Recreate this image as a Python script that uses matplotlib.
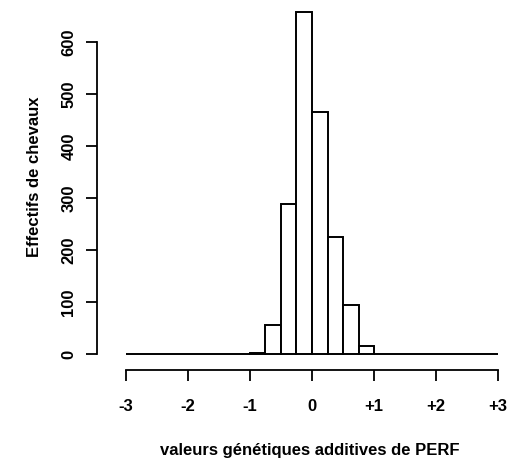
import numpy as np
import matplotlib.pyplot as plt

# histogram counts, bins of width 0.25 from -3 to +3
bin_start = -3.0
bin_width = 0.25
counts = [0, 0, 0, 0, 0, 0, 0, 0, 3, 57, 288, 658,
          465, 225, 94, 15, 1, 0, 0, 0, 0, 0, 0, 0]
x_ticks = [-3, -2, -1, 0, 1, 2, 3]
x_ticklabels = ["-3", "-2", "-1", "0", "+1", "+2", "+3"]
y_ticks = [0, 100, 200, 300, 400, 500, 600]

plt.rcParams['font.family'] = ['Liberation Sans', 'DejaVu Sans']

W, H = 508, 465
fig = plt.figure(figsize=(W / 100, H / 100), dpi=100)
ax = fig.add_axes([111 / W, (465 - 368) / H, 402 / W, 370 / H])

lefts = bin_start + bin_width * np.arange(len(counts))
ax.bar(lefts, counts, width=bin_width, align='edge', facecolor='white',
       edgecolor='black', linewidth=1.4)

ax.set_xlim(-3.24, 3.24)
ax.set_ylim(-26.3, 684.3)

for s in ['top', 'right']:
    ax.spines[s].set_visible(False)
ax.spines['left'].set_position(('outward', 10))
ax.spines['left'].set_bounds(0, 600)
ax.spines['bottom'].set_position(('outward', 1.5))
ax.spines['bottom'].set_bounds(-3, 3)
for s in ['left', 'bottom']:
    ax.spines[s].set_linewidth(1.3)

ax.set_xticks(x_ticks)
ax.set_xticklabels(x_ticklabels, fontsize=12, fontweight='bold')
ax.set_yticks(y_ticks)
ax.set_yticklabels([str(v) for v in y_ticks], fontsize=12, fontweight='bold',
                   rotation=90, va='center')
ax.tick_params(axis='both', length=8, width=1.3)
ax.tick_params(axis='x', pad=13)
ax.tick_params(axis='y', pad=7)

fig.text(35 / W, 1 - 177 / H, "Effectifs de chevaux", rotation=90,
         ha='center', va='center', fontsize=12, fontweight='bold')
fig.text(310 / W, 1 - 450 / H, "valeurs génétiques additives de PERF",
         ha='center', va='center', fontsize=12, fontweight='bold')

fig.savefig('out.png', dpi=100)
